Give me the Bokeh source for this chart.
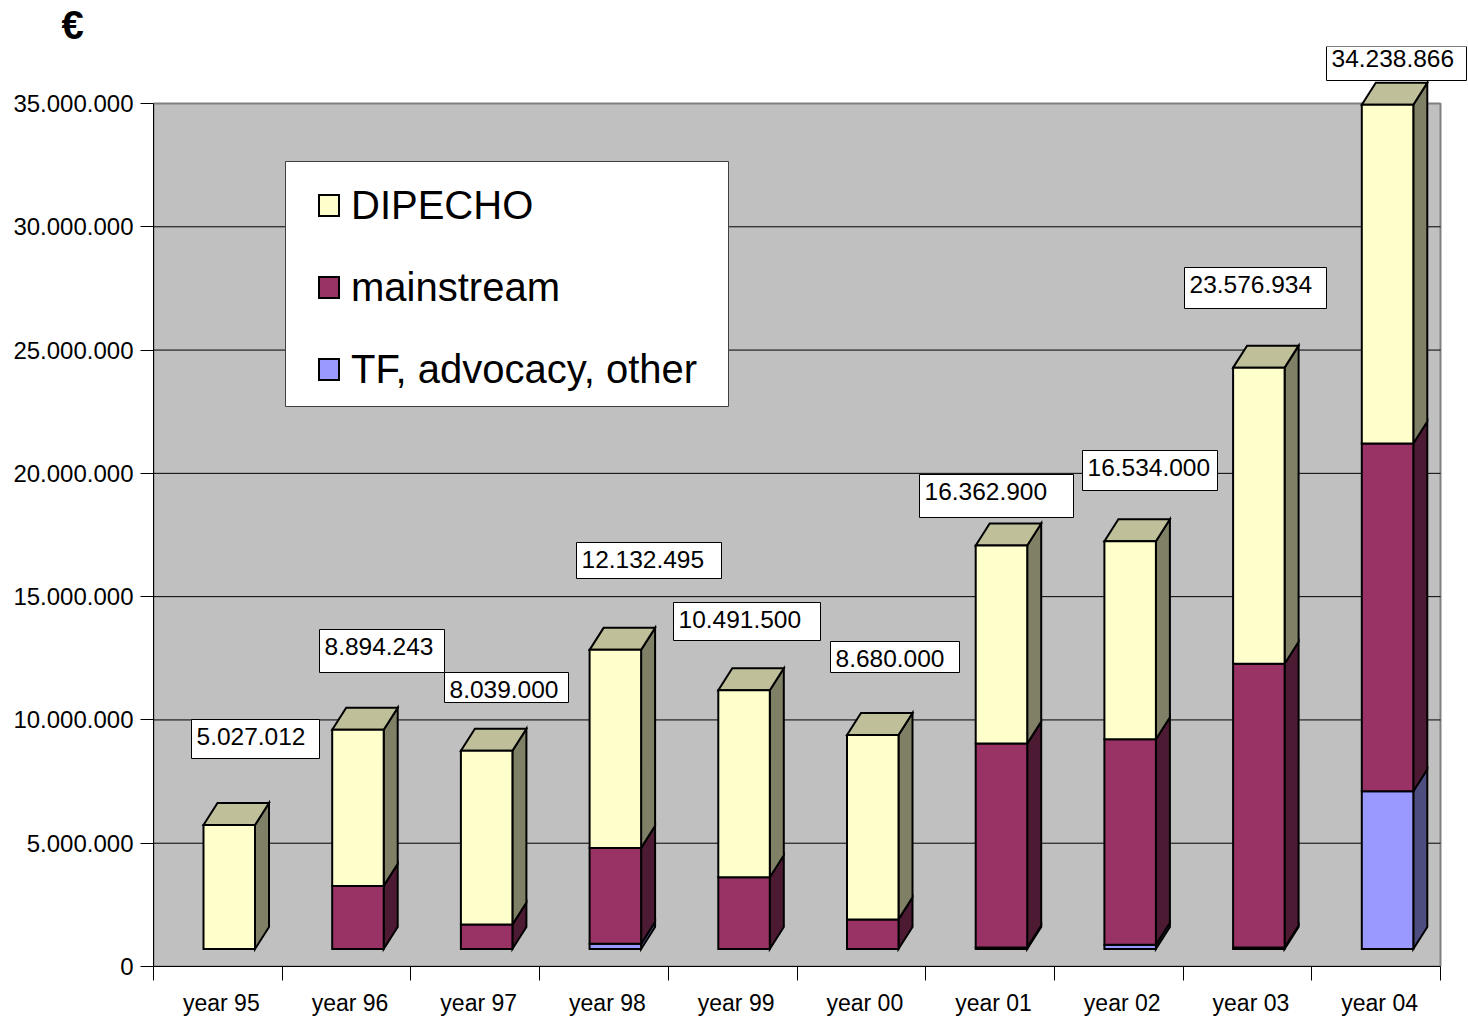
from bokeh.plotting import figure
from bokeh.models import ColumnDataSource, Range1d, FixedTicker, Legend, LegendItem, Title
from bokeh.embed import file_html
from bokeh.resources import INLINE
from bokeh.core.properties import value

# ---------------- data ----------------
years = ["year 95", "year 96", "year 97", "year 98", "year 99",
         "year 00", "year 01", "year 02", "year 03", "year 04"]
tf_advocacy = [0, 0, 0, 210000, 0, 0, 60000, 170000, 60000, 6400000]
mainstream = [0, 2560000, 990000, 3890000, 2910000, 1200000, 8270000, 8340000, 11510000, 14100000]
dipecho = [5027012, 6334243, 7049000, 8032495, 7581500, 7480000, 8032900, 8024000, 12006934, 13738866]
totals = [5027012, 8894243, 8039000, 12132495, 10491500, 8680000, 16362900, 16534000, 23576934, 34238866]
y_ticks = [0, 5000000, 10000000, 15000000, 20000000, 25000000, 30000000, 35000000]

series_names = ["TF, advocacy, other", "mainstream", "DIPECHO"]
series_vals = [tf_advocacy, mainstream, dipecho]
front_cols = ["#9999FF", "#993366", "#FFFFCC"]
side_cols = ["#4D4D80", "#4D1A33", "#808066"]
top_cols = ["#7373BF", "#73264D", "#BFBF99"]

# ---------------- layout (pixels) ----------------
W, H = 1468, 1019
LEFT_B, BOT_B, TOP_B = 153, 53, 46
CAT_PX = 128.7
UNIT_PX = 863 / 35e6
FRAME_W = W - LEFT_B
FRAME_H = H - BOT_B - TOP_B
PAGE_X0, PAGE_Y0 = LEFT_B, H - BOT_B  # page position of data origin


def dx(px):
    return px / CAT_PX


def dy(px):
    return px / UNIT_PX


def px2x(px):
    return (px - PAGE_X0) / CAT_PX


def px2y(py):
    return (PAGE_Y0 - py) / UNIT_PX


BAR_OFF = dx(50)
BAR_W = dx(51.5)
DEP_X = dx(14)
DEP_Y = dy(22)
FLOOR = dy(17.5)

p = figure(width=W, height=H, output_backend="svg", toolbar_location=None,
           x_range=Range1d(0, FRAME_W / CAT_PX), y_range=Range1d(0, FRAME_H / UNIT_PX),
           min_border_left=LEFT_B, min_border_bottom=BOT_B, min_border_top=TOP_B, min_border_right=0)
p.outline_line_color = None
p.xgrid.visible = False
p.ygrid.visible = False
p.background_fill_color = "white"
p.border_fill_color = "white"
p.title = Title(text="€", align="left", offset=-92, standoff=0, text_font="Liberation Sans",
                text_font_size="40px", text_font_style="bold", text_color="black")

# back wall
p.quad(left=[0], right=[len(years)], bottom=[0], top=[y_ticks[-1]],
       fill_color="#C0C0C0", line_color="#808080", line_width=2)
# gridlines
gl = y_ticks[1:-1]
p.segment(x0=[0] * len(gl), x1=[len(years)] * len(gl), y0=gl, y1=gl,
          line_color="black", line_width=1)

# bars
side_xs, side_ys, side_fc = [], [], []
top_xs, top_ys, top_fc = [], [], []
fronts = []
cum = [FLOOR] * len(years)
for s, vals in enumerate(series_vals):
    L, R, B, T = [], [], [], []
    for i, v in enumerate(vals):
        if v <= 0:
            continue
        xl = i + BAR_OFF
        xr = xl + BAR_W
        b = cum[i]
        t = b + v
        L.append(xl); R.append(xr); B.append(b); T.append(t)
        side_xs.append([xr, xr + DEP_X, xr + DEP_X, xr])
        side_ys.append([b, b + DEP_Y, t + DEP_Y, t])
        side_fc.append(side_cols[s])
        cum[i] = t
    fronts.append(dict(left=L, right=R, bottom=B, top=T))

for i in range(len(years)):
    xl = i + BAR_OFF
    xr = xl + BAR_W
    T = cum[i]
    top_xs.append([xl, xl + DEP_X, xr + DEP_X, xr])
    top_ys.append([T, T + DEP_Y, T + DEP_Y, T])
    top_fc.append(top_cols[2])

p.patches(side_xs, side_ys, fill_color=side_fc, line_color="black", line_width=2, line_join="miter")
p.patches(top_xs, top_ys, fill_color=top_fc, line_color="black", line_width=2, line_join="miter")
front_r = []
for s in range(3):
    r = p.quad(source=ColumnDataSource(fronts[s]), left="left", right="right", bottom="bottom", top="top",
               fill_color=front_cols[s], line_color="black", line_width=2, line_join="miter")
    front_r.append(r)

# value label boxes (page px: left, top, right, bottom, text baseline)
label_boxes = [(191, 719, 319, 758, 744.5), (319, 629, 444, 672, 655), (444, 672, 568, 702, 697.5),
               (576, 542, 721, 578, 567.5), (673, 602, 820, 640, 627.5), (830, 641, 959, 672, 666.5),
               (919, 474, 1073, 517, 499.5), (1082, 450, 1217, 490, 476), (1184, 267, 1326, 308, 292.5),
               (1326, 46, 1466, 80, 67)]
BASELINE_FIX = 9
p.quad(left=[px2x(b[0]) for b in label_boxes], right=[px2x(b[2]) for b in label_boxes],
       top=[px2y(b[1]) for b in label_boxes], bottom=[px2y(b[3]) for b in label_boxes],
       fill_color="white", line_color="black", line_width=1)
lab_txt = [f"{v:,}".replace(",", ".") for v in totals]
p.text(x=[px2x(b[0] + 5) for b in label_boxes], y=[px2y(b[4] - BASELINE_FIX) for b in label_boxes],
       text=lab_txt, text_font=value("Liberation Sans"), text_font_size="24.5px",
       text_align="left", text_baseline="alphabetic", text_color="black")

# legend box
p.quad(left=[px2x(285)], right=[px2x(728)], top=[px2y(161)], bottom=[px2y(406)],
       fill_color="white", line_color="#404040", line_width=1)

# axes
lab_pos = [i + 0.527 for i in range(len(years))]
xa = p.xaxis[0]
xa.ticker = FixedTicker(ticks=lab_pos, minor_ticks=list(range(len(years) + 1)))
xa.major_label_overrides = {lab_pos[i]: years[i] for i in range(len(years))}
xa.major_tick_out = 0
xa.major_tick_in = 0
xa.minor_tick_out = 14
xa.minor_tick_in = 0
xa.minor_tick_line_color = "black"
xa.axis_line_color = "black"
xa.bounds = (0, len(years))
xa.major_label_standoff = 9
xa.major_label_text_font = "Liberation Sans"
xa.major_label_text_font_size = "23px"
xa.major_label_text_color = "black"

ya = p.yaxis[0]
ya.ticker = FixedTicker(ticks=y_ticks)
ya.major_label_overrides = {v: f"{v:,}".replace(",", ".") for v in y_ticks}
ya.major_tick_out = 13
ya.major_tick_in = 0
ya.minor_tick_line_color = None
ya.axis_line_color = "black"
ya.bounds = (0, y_ticks[-1])
ya.major_label_standoff = 7
ya.major_label_text_font = "Liberation Sans"
ya.major_label_text_font_size = "24px"
ya.major_label_text_color = "black"

# legend
items = [LegendItem(label=series_names[s], renderers=[front_r[s]]) for s in (2, 1, 0)]
ROW_H, ROW_GAP = 48, 34
leg_top = 205 - ROW_H / 2
leg_bottom = leg_top + 3 * ROW_H + 2 * ROW_GAP
leg = Legend(items=items, location=(316 - PAGE_X0, PAGE_Y0 - leg_bottom), orientation="vertical",
             margin=0, padding=0, spacing=ROW_GAP, label_standoff=10,
             glyph_width=25, glyph_height=26, label_width=300, label_height=ROW_H,
             label_text_font="Liberation Sans", label_text_font_size="40px",
             label_text_color="black", border_line_color=None,
             background_fill_alpha=0)
p.add_layout(leg)

open("out.html", "w").write(file_html(p, INLINE))
